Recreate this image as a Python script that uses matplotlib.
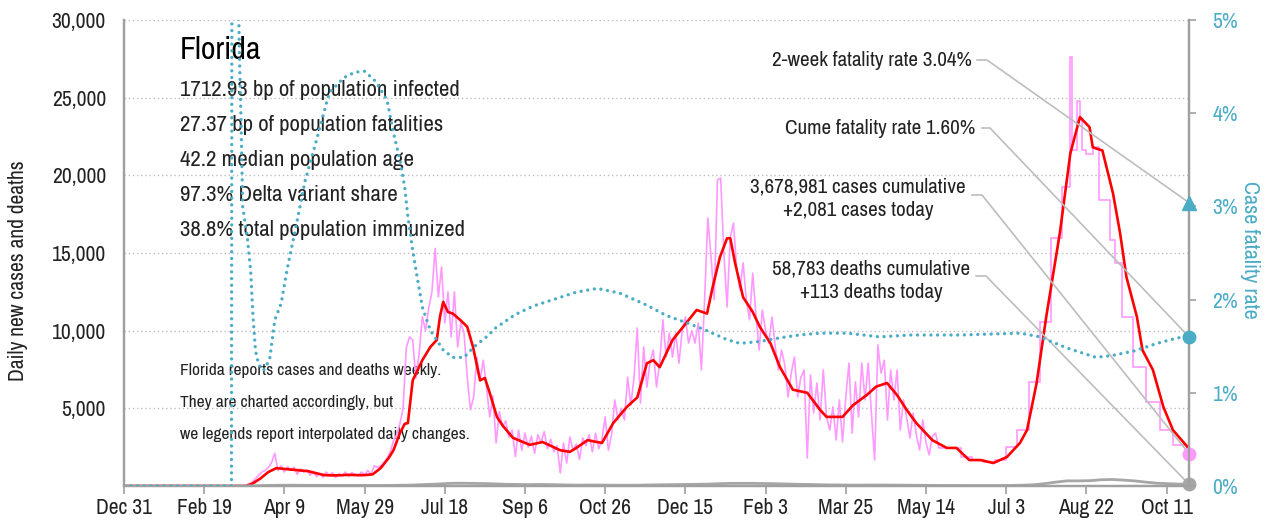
import matplotlib
matplotlib.use("Agg")
import matplotlib.pyplot as plt

# ---------------- data ----------------
tick_days = [0, 50, 100, 150, 200, 250, 300, 350, 400, 450, 500, 550, 600, 650]
tick_labels = ["Dec 31", "Feb 19", "Apr 9", "May 29", "Jul 18", "Sep 6", "Oct 26",
               "Dec 15", "Feb 3", "Mar 25", "May 14", "Jul 3", "Aug 22", "Oct 11"]
last_day = 664

# raw daily cases (every 2nd day, starting day 0) - daily reporting period
pink_daily = [0, 0, 0, 0, 0, 0, 0, 0, 0, 0, 0, 0, 0, 0, 0, 0, 0, 0, 0, 0,
              0, 0, 0, 0, 0, 0, 0, 0, 0, 0, 0, 0, 0, 0, 0, 0, 0, 0,
              40, 150, 250, 480, 700, 900, 1000, 1200, 1500, 2100,
              1000, 1300, 900, 1250, 1000, 1200, 750, 1100, 900, 1050,
              700, 950, 600, 800, 550, 900, 700, 850, 550, 800,
              650, 900, 600, 850, 750, 650, 900, 700, 1000, 750,
              1300, 1200, 1300, 1500, 1800, 2200, 2900, 3300, 4000, 5000,
              8900, 9600, 9400, 6950, 8500, 10900, 10000, 11460, 12500, 15300,
              12170, 14100, 10500, 12500, 9600, 12500, 8950, 10500, 9850, 7000,
              4900, 5730, 8300, 6800, 8100, 6370, 4450, 5800, 2770, 4800,
              3800, 4200, 3150, 3600, 1900, 3600, 2300, 3400, 2500, 3200,
              2100, 3300, 2800, 3500, 2400, 3000, 2200, 2600, 840, 2770,
              1480, 3150, 2300, 2700, 1700, 3100, 2600, 3300, 2200, 3400,
              2400, 3000, 4450, 2300, 3300, 5540, 4250, 5000, 4250, 7000,
              5200, 7000, 10170, 5340, 8950, 6370, 8000, 8750, 6370, 8000,
              10700, 8300, 9850, 8300, 9850, 7900, 10000, 10880, 9200, 10000,
              9200, 10500, 7470, 12000, 17250, 14750, 12000, 19700, 19830, 15000,
              11530, 16030, 16930, 14000, 12620, 14360, 12000, 10700, 13700, 11000,
              8750, 11330, 10000, 9200, 10880, 9000, 7470, 8750, 7800, 5730,
              7270, 8300, 5730, 7000, 7470, 1800, 7150, 4700, 6630, 4250,
              7470, 4450, 3600, 5100, 2960, 5540, 2830, 5730, 7920, 3400,
              6700, 4450, 7920, 5540, 7920, 4700, 1670, 9080, 7270, 8100,
              4250, 7470, 5540, 7470, 3600, 5540, 4400, 3090, 4700, 3300,
              2320, 4250, 2800, 2000, 3200, 3400, 2450, 2450, 2450]

# raw cases in the weekly reporting period (step values starting at given day)
pink_step_days = [512, 522, 529, 536, 543, 550, 557, 564, 571, 578, 585, 590, 591,
                  594, 596, 597, 600, 604, 608, 614.5, 617.6, 622, 629, 637.5, 646,
                  654, 663, 664]
pink_step_vals = [2450, 1870, 1670, 1550, 1650, 2510, 3600, 6700, 10560, 15970, 19250,
                  27620, 21630, 24800, 23700, 21600, 21400, 21800, 18400, 15840, 14360,
                  10880, 7660, 5400, 3600, 2640, 2100, 2100]

# 7-day average of cases
red_days = [0, 76, 80, 85, 90, 95, 100, 105, 110, 115, 120, 125, 130, 135, 140, 145,
            150, 155, 160, 165, 168, 172, 175, 177, 180, 186, 191, 195, 197, 199,
            202, 205, 209.5, 214, 217.6, 222, 225, 228, 232.5, 236, 242.5, 253, 261,
            272, 278, 282, 289, 298, 305, 313.6, 320, 326, 330, 334, 342, 351, 357,
            363.5, 367, 371.6, 376, 378, 381, 386, 392, 396.5, 403, 409, 417, 426,
            434, 438, 448, 454.5, 463, 469, 475.7, 482, 488, 494, 504, 513, 519, 527,
            534, 542, 550.5, 558.6, 563, 569, 575, 583.5, 590, 596, 602, 604, 610,
            616.6, 621, 625, 631.5, 635, 641.5, 648, 654, 664]
red_vals = [0, 0, 150, 480, 900, 1150, 1100, 1050, 1000, 950, 820, 700, 680, 690, 720,
            700, 700, 750, 1150, 1800, 2300, 3400, 4000, 4050, 6800, 8100, 8950, 9400,
            10900, 11850, 11200, 11100, 10700, 10250, 8950, 6800, 6950, 6000, 4450,
            3900, 3100, 2650, 2830, 2300, 2200, 2450, 2950, 2770, 4050, 5100, 5700,
            7900, 8100, 7650, 9400, 10550, 11330, 11100, 12800, 14750, 15950, 15950,
            14350, 12150, 11200, 10230, 9200, 7650, 6200, 6000, 4900, 4450, 4450, 5200,
            5850, 6400, 6630, 5850, 4900, 4050, 2950, 2450, 2450, 1670, 1670, 1480,
            1870, 2770, 3600, 6630, 10900, 16300, 21400, 23750, 23100, 21800, 21600,
            18850, 16300, 13450, 10900, 8750, 7470, 5100, 3600, 2400]

# daily deaths (weekly samples)
death_days = [0, 70, 77, 84, 91, 98, 105, 112, 119, 126, 133, 140, 147, 154, 161, 168,
              175, 182, 189, 196, 203, 210, 217, 224, 231, 238, 245, 252, 259, 266,
              273, 280, 287, 294, 301, 308, 315, 322, 329, 336, 343, 350, 357, 364,
              371, 378, 385, 392, 399, 406, 413, 420, 427, 434, 441, 448, 455, 462,
              469, 476, 483, 490, 497, 504, 511, 518, 525, 532, 539, 546, 553, 560,
              567, 574, 581, 588, 595, 602, 609, 616, 623, 630, 637, 644, 651, 658, 664]
death_vals = [0, 0, 5, 20, 40, 50, 50, 45, 45, 40, 40, 40, 40, 35, 35, 40, 50, 70, 100,
              130, 170, 180, 170, 160, 140, 110, 100, 90, 100, 90, 75, 60, 60, 65, 55,
              50, 50, 55, 70, 80, 90, 100, 110, 120, 150, 170, 170, 170, 160, 150, 130,
              110, 100, 80, 70, 65, 60, 60, 65, 60, 55, 50, 45, 40, 35, 35, 30, 30, 30,
              30, 40, 50, 80, 150, 250, 330, 330, 340, 400, 420, 380, 330, 250, 180,
              150, 120, 113]

# case fatality rate (%)
cfr_days = [0, 67, 68, 71, 72, 73, 74, 77, 79, 80.5, 82, 84, 87, 89, 91, 94, 98, 102,
            108, 113, 120, 128, 137, 144, 150, 157, 164, 168, 172, 175, 177, 180, 182,
            186, 191, 199, 205, 212, 218, 226, 232, 244, 255, 264, 282, 295, 309, 326,
            338, 351, 363, 376, 384, 396, 409, 421, 434, 451, 471, 490, 521, 559, 571,
            588, 606, 616, 630, 644, 657, 664]
cfr_vals = [0, 0, 20, 5.6, 4.6, 3.9, 3.0, 2.65, 2.3, 1.8, 1.45, 1.3, 1.24, 1.3, 1.38,
            1.78, 1.96, 2.35, 2.85, 3.28, 3.71, 4.22, 4.38, 4.44, 4.45, 4.34, 4.14, 3.79,
            3.5, 3.21, 2.89, 2.53, 2.32, 1.92, 1.67, 1.46, 1.38, 1.38, 1.49, 1.6, 1.7,
            1.84, 1.93, 1.98, 2.08, 2.12, 2.07, 1.94, 1.83, 1.75, 1.67, 1.57, 1.53, 1.55,
            1.59, 1.62, 1.64, 1.64, 1.60, 1.62, 1.62, 1.64, 1.60, 1.48, 1.38, 1.40, 1.45,
            1.53, 1.59, 1.60]

two_week_cfr = 3.04
cume_cfr = 1.60
cases_cum = 3678981
cases_today = 2081
deaths_cum = 58783
deaths_today = 113

info_lines = ["1712.93 bp of population infected", "27.37 bp of population fatalities",
              "42.2 median population age", "97.3% Delta variant share",
              "38.8% total population immunized"]
note_lines = ["Florida reports cases and deaths weekly.", "They are charted accordingly, but",
              "we legends report interpolated daily changes."]

# ---------------- style ----------------
plt.rcParams['font.family'] = ['Archivo Narrow', 'DejaVu Sans']
PINK = '#FF99FF'
RED = '#FF0000'
TEAL = '#4BACC6'
GRAY = '#A6A6A6'
AXGRAY = '#A0A0A0'
TXT = '#222222'

fig = plt.figure(figsize=(12.68, 5.27), dpi=100)
ax = fig.add_axes([124/1268, 41/527, 1065/1268, 466/527])
ax2 = ax.twinx()

ax.set_xlim(0, last_day)
ax.set_ylim(0, 30000)
ax2.set_ylim(0, 5)

# grid
for v in range(5000, 30001, 5000):
    ax.axhline(v, color='#BDBDBD', lw=1.0, ls=(0, (1, 2)), zorder=0)

pink_days = [2 * i for i in range(len(pink_daily))]
ax.plot(pink_days, pink_daily, color=PINK, lw=1.2, zorder=2)
ax.plot(pink_step_days, pink_step_vals, color=PINK, lw=1.2, drawstyle='steps-post', zorder=2)
ax.plot(red_days, red_vals, color=RED, lw=1.9, zorder=3)
ax.plot(death_days, death_vals, color=GRAY, lw=2.0, zorder=3)

ax2.plot(cfr_days, cfr_vals, color=TEAL, lw=2.4, ls=(0, (0.01, 2.0)),
         dash_capstyle='round', zorder=3)

# end markers
ax2.plot([last_day], [two_week_cfr], marker='^', ms=10, color=TEAL, clip_on=False, zorder=5)
ax2.plot([last_day], [cume_cfr], marker='o', ms=9, color=TEAL, clip_on=False, zorder=5)
ax.plot([last_day], [cases_today], marker='o', ms=9, color=PINK, clip_on=False, zorder=5)
ax.plot([last_day], [deaths_today], marker='o', ms=9, color=GRAY, clip_on=False, zorder=5)

# axes styling
for a in (ax, ax2):
    a.spines['top'].set_visible(False)
    for s in ('left', 'right', 'bottom'):
        a.spines[s].set_color(AXGRAY)
        a.spines[s].set_linewidth(1.6)

ax.set_xticks(tick_days)
ax.set_xticklabels(tick_labels)
ax.tick_params(axis='x', length=6, width=1.2, color=AXGRAY, labelsize=15.5, labelcolor=TXT, pad=3)
yt = list(range(5000, 30001, 5000))
ax.set_yticks(yt)
ax.set_yticklabels([f"{v:,}" for v in yt])
ax.tick_params(axis='y', length=0, labelsize=15.5, labelcolor=TXT, pad=13)
ax.set_ylabel("Daily new cases and deaths", fontsize=15.5, color=TXT, va='center')
ax.yaxis.set_label_coords((18 - 124) / 1065, (486 - 271) / 466)

ax2.set_yticks([0, 1, 2, 3, 4, 5])
ax2.set_yticklabels([f"{v}%" for v in range(6)])
ax2.tick_params(axis='y', length=5, width=1.2, color=AXGRAY, labelsize=15.5, labelcolor=TEAL, pad=12)
ax2.set_ylabel("Case fatality rate", fontsize=16, color=TEAL, rotation=270, va='center')
ax2.yaxis.set_label_coords((1250 - 124) / 1065, (486 - 250) / 466)

def ay(py):
    return (486 - py) / 466
def ax_(px):
    return (px - 124) / 1065

ax.text(ax_(180), ay(50), "Florida", transform=ax.transAxes, fontsize=23, color='black',
        va='center', ha='left', zorder=1)
for i, line in enumerate(info_lines):
    ax.text(ax_(180), ay(90 + 35 * i), line, transform=ax.transAxes, fontsize=16.5,
            color=TXT, va='center', ha='left', zorder=1)
for i, line in enumerate(note_lines):
    ax.text(ax_(180), ay(371 + 31.5 * i), line, transform=ax.transAxes, fontsize=12.5,
            color=TXT, va='center', ha='left', zorder=1)

ann_kw = dict(transform=ax.transAxes, fontsize=15.2, color=TXT, zorder=1)
ax.text(ax_(972), ay(60), f"2-week fatality rate {two_week_cfr:.2f}%", ha='right', va='center', **ann_kw)
ax.text(ax_(975), ay(128), f"Cume fatality rate {cume_cfr:.2f}%", ha='right', va='center', **ann_kw)
ax.text(ax_(858), ay(199), f"{cases_cum:,} cases cumulative\n+{cases_today:,} cases today",
        ha='center', va='center', linespacing=1.3, multialignment='center', **ann_kw)
ax.text(ax_(871), ay(281), f"{deaths_cum:,} deaths cumulative\n+{deaths_today:,} deaths today",
        ha='center', va='center', linespacing=1.3, multialignment='center', **ann_kw)

leaders = [((977, 60), (987, 60), two_week_cfr / 5),
           ((982, 128), (990, 128), cume_cfr / 5),
           ((972, 195), (982, 195), cases_today / 30000),
           ((976, 276), (986, 276), deaths_today / 30000)]
for (p0, p1, yend) in leaders:
    ax.plot([ax_(p0[0]), ax_(p1[0]), 1.0], [ay(p0[1]), ay(p1[1]), yend],
            transform=ax.transAxes, color='#BDBDBD', lw=1.2, clip_on=False, zorder=4)

fig.savefig("out.png", dpi=100)
